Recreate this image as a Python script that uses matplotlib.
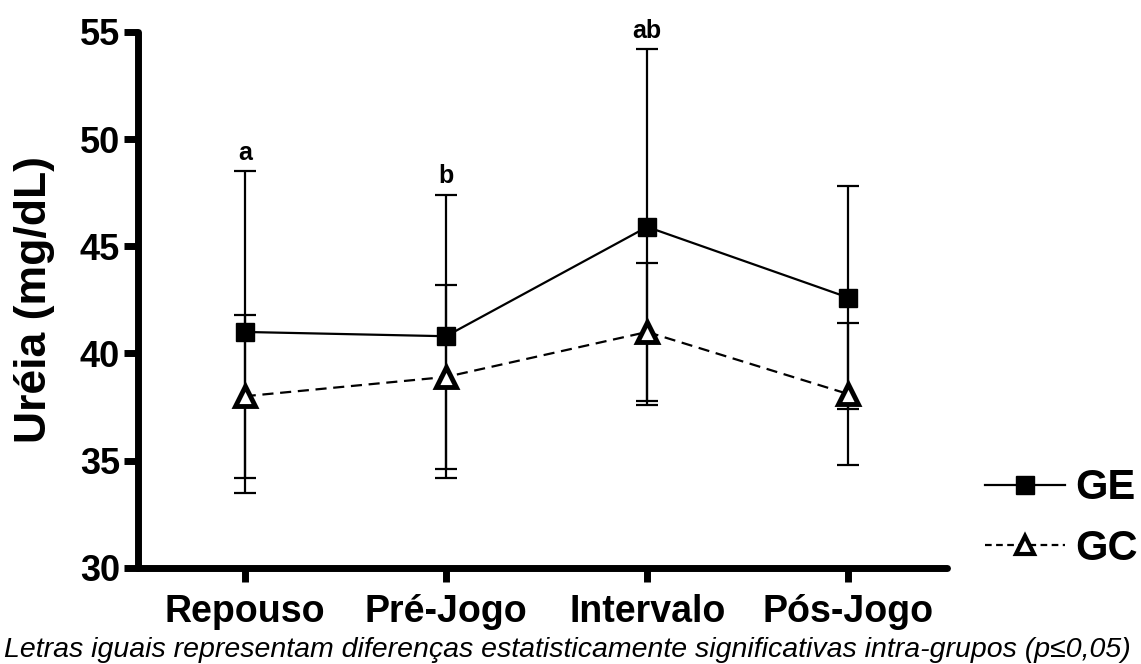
import matplotlib
matplotlib.use("Agg")
import matplotlib.pyplot as plt
from matplotlib.lines import Line2D
import numpy as np

categories = ["Repouso", "Pré-Jogo", "Intervalo", "Pós-Jogo"]
ge_mean = [41.0, 40.8, 45.9, 42.6]
ge_sd = [7.5, 6.6, 8.3, 5.2]
gc_mean = [38.0, 38.9, 41.0, 38.1]
gc_sd = [3.8, 4.3, 3.2, 3.3]
letters = ["a", "b", "ab", ""]
yticks = [30, 35, 40, 45, 50, 55]

plt.rcParams['font.family'] = ['Liberation Sans', 'DejaVu Sans']

fig = plt.figure(figsize=(11.41, 6.64), dpi=100)
ax = fig.add_axes([0.121, 0.145, 0.709, 0.807])
x = np.arange(len(categories))

# error bars
for m, s in ((ge_mean, ge_sd), (gc_mean, gc_sd)):
    ax.errorbar(x, m, yerr=s, fmt='none', ecolor='black', elinewidth=1.6,
                capsize=8, capthick=1.6, zorder=2)

ax.plot(x, ge_mean, color='black', lw=1.6, marker='s', ms=13,
        mfc='black', mec='black', zorder=3)
ax.plot(x, gc_mean, color='black', lw=1.6, ls='--', dashes=(5, 3),
        marker='^', ms=15, mfc='white', mec='black', mew=3.5, zorder=4)

for xi, m, s, t in zip(x, ge_mean, ge_sd, letters):
    if t:
        ax.text(xi, m + s + 0.3, t, ha='center', va='bottom', fontsize=18,
                fontweight='bold')

ax.set_xlim(-0.53, 3.49)
ax.set_ylim(30, 55)
ax.set_yticks(yticks)
ax.set_xticks(x)
ax.set_xticklabels(categories, fontsize=27, fontweight='bold')
ax.set_yticklabels([str(v) for v in yticks], fontsize=26, fontweight='bold')
ax.set_ylabel("Uréia (mg/dL)", fontsize=32, fontweight='bold', labelpad=18)
for side in ['top', 'right']:
    ax.spines[side].set_visible(False)
for side in ['left', 'bottom']:
    ax.spines[side].set_linewidth(5)
    ax.spines[side].set_capstyle('round')
ax.tick_params(axis='both', width=5, length=10, direction='out', pad=3)
ax.tick_params(axis='x', pad=9)

handles = [
    Line2D([], [], color='black', lw=1.6, marker='s', ms=13, mfc='black', mec='black'),
    Line2D([], [], color='black', lw=1.6, ls='--', dashes=(3, 2), marker='^', ms=13,
           mfc='white', mec='black', mew=3),
]
fig.legend(handles, ['GE', 'GC'], loc='lower right', bbox_to_anchor=(0.997, 0.143),
           frameon=False, prop={'size': 30, 'weight': 'bold'}, handlelength=1.9,
           labelspacing=0.5, handletextpad=0.25, borderpad=0, borderaxespad=0)

fig.text(0.497, 0.021,
         "Letras iguais representam diferenças estatisticamente significativas intra-grupos (p≤0,05)",
         ha='center', va='center', fontsize=20.5, style='italic')

fig.savefig("out.png", dpi=100)
